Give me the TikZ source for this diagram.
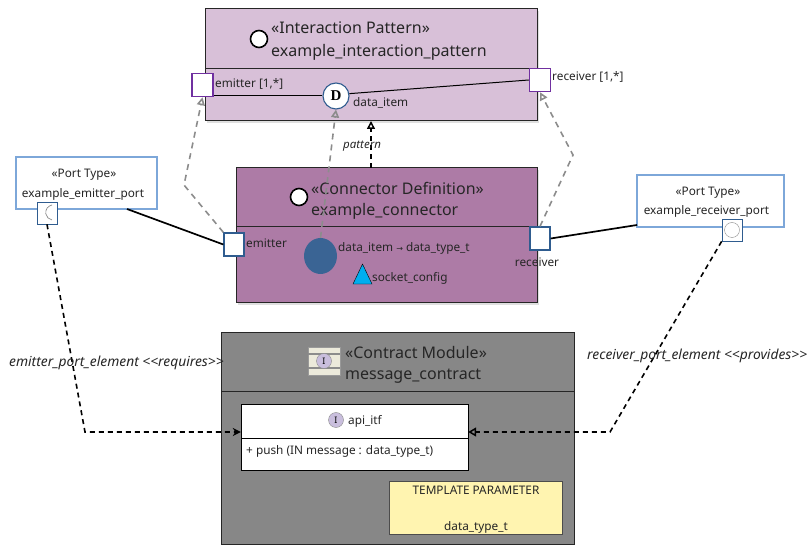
\documentclass[tikz,border=0pt]{standalone}
\usepackage{fontspec}
\setmainfont{Noto Sans}
\newfontfamily\arrowfont{DejaVu Sans}
\newfontfamily\serifbold{Liberation Serif}
\usetikzlibrary{arrows.meta,shadows,shapes.geometric}
\definecolor{patternfill}{HTML}{D8C0D8}
\definecolor{connectorfill}{HTML}{AD7BA6}
\definecolor{modulefill}{HTML}{878787}
\definecolor{portblue}{HTML}{7DA7D9}
\definecolor{portedge}{HTML}{2F5C8F}
\definecolor{portviolet}{HTML}{7030A0}
\definecolor{notefill}{HTML}{FFF4B0}
\definecolor{itemblue}{HTML}{3A6494}
\definecolor{socketblue}{HTML}{00AEEF}
\definecolor{ifacefill}{HTML}{C9BEDD}
\definecolor{iconfill}{HTML}{ECEADB}
\begin{document}
\begin{tikzpicture}[x=1pt, y=-1pt,
  bigtext/.style={font=\fontsize{16}{18}\selectfont, inner sep=0, anchor=west, text=black!85},
  smalltext/.style={font=\fontsize{11.8}{13}\selectfont, inner sep=0, text=black!85},
  edgetext/.style={font=\fontsize{13.8}{15}\selectfont\itshape, inner sep=0, anchor=west, text=black!85},
  bigbox/.style={draw=black!85, line width=1pt, inner sep=0, drop shadow={shadow xshift=2pt, shadow yshift=-2pt, fill=black!25}},
  typebox/.style={draw=portblue, line width=1.6pt, fill=white, inner sep=0},
  openport/.style={draw=portviolet, line width=1.5pt, fill=white, inner sep=0, minimum width=21pt, minimum height=23pt},
  conport/.style={draw=portedge, line width=1.3pt, fill=white, inner sep=0, minimum width=20pt, minimum height=23pt},
  smallport/.style={draw=portedge, line width=0.7pt, fill=white, inner sep=0, minimum width=20pt, minimum height=22pt},
  ring/.style={circle, draw=black, line width=1.6pt, fill=white, inner sep=0, minimum size=17pt},
  ifaceicon/.style={circle, draw=black!45, fill=ifacefill, inner sep=0, minimum size=15pt, font=\fontsize{9}{9}\selectfont\bfseries},
  bound/.style={dash pattern=on 6pt off 5pt, draw=black!45, line width=1.6pt, -{Triangle[open, length=8pt, width=8pt]}},
  solidlink/.style={draw=black, line width=1.7pt},
  usage/.style={dash pattern=on 5pt off 4pt, draw=black, line width=1.6pt}]
\useasboundingbox (0,0) rectangle (809,545);

% interaction pattern
\node[bigbox, fill=patternfill, minimum width=332pt, minimum height=112pt] (pattern) at (371,65) {};
\draw[draw=black!85] (205,68) -- (537,68);
\node[ring] (patternIcon) at (259,39) {};
\node[bigtext] (patternStereo) at (271,28) {«Interaction Pattern»};
\node[bigtext] (patternName) at (271,52) {example\_interaction\_pattern};

% connector definition
\node[bigbox, fill=connectorfill, minimum width=301pt, minimum height=135pt] (connector) at (386.5,235.5) {};
\draw[draw=black!85] (236,226) -- (537,226);
\node[ring] (connectorIcon) at (299,197) {};
\node[bigtext] (connectorStereo) at (311,188) {«Connector Definition»};
\node[bigtext] (connectorName) at (311,211) {example\_connector};
\node[ellipse, fill=itemblue, inner sep=0, minimum width=33pt, minimum height=36pt] (item) at (320.5,256) {};
\node[smalltext, anchor=west] (itemLabel) at (338,248) {data\_item {\arrowfont\fontsize{8}{8}\selectfont →} data\_type\_t};
\node[draw=black, fill=socketblue, isosceles triangle, isosceles triangle apex angle=55, isosceles triangle stretches, shape border rotate=90, inner sep=0, minimum width=19pt, minimum height=20pt] (socket) at (362.5,278) {};
\node[smalltext, anchor=west] (socketLabel) at (372,278) {socket\_config};

% port types
\node[typebox, minimum width=141pt, minimum height=52pt] (emitterType) at (86.5,183) {};
\node[smalltext] (emitterStereo) at (84,175) {«Port Type»};
\node[smalltext] (emitterName) at (83,194) {example\_emitter\_port};
\node[typebox, minimum width=147pt, minimum height=52pt] (receiverType) at (710.5,201) {};
\node[smalltext] (receiverStereo) at (708,193) {«Port Type»};
\node[smalltext] (receiverName) at (706.5,211) {example\_receiver\_port};

% contract module
\node[draw=black!85, line width=1pt, fill=modulefill, minimum width=353pt, minimum height=211pt] (module) at (397.5,438.5) {};
\draw[draw=black!85] (221,391) -- (574,391);
\node[draw=black!40, fill=iconfill, minimum width=32pt, minimum height=28pt, inner sep=0] (moduleIcon) at (324,361) {};
\draw[draw=black!45, line width=1.5pt] (308,354) -- (340,354) (308,368) -- (340,368);
\node[ifaceicon] (moduleI) at (324,361) {I};
\node[bigtext] (moduleStereo) at (345,353) {«Contract Module»};
\node[bigtext] (moduleName) at (345,376) {message\_contract};
\node[draw=black, fill=white, minimum width=227pt, minimum height=66pt, inner sep=0] (api) at (354.5,437) {};
\draw[draw=black] (241,438) -- (468,438);
\node[ifaceicon] (apiIcon) at (336,420) {I};
\node[smalltext, anchor=west] (apiName) at (348,421) {api\_itf};
\node[smalltext, anchor=west] (apiPush) at (246,451) {+ push (IN message : data\_type\_t)};
\node[draw=black!70, fill=notefill, minimum width=173pt, minimum height=53pt, inner sep=0] (template) at (475.5,507.5) {};
\node[smalltext] (templateTitle) at (476,490) {TEMPLATE PARAMETER};
\node[smalltext] (templateName) at (476,527) {data\_type\_t};

% ports
\node[openport] (patternEmitter) at (202.5,85) {};
\node[openport] (patternReceiver) at (540,80) {};
\node[circle, draw=portedge, line width=1.1pt, fill=white, inner sep=0, minimum size=26pt, font=\serifbold\bfseries\fontsize{15}{15}\selectfont] (patternItem) at (336,96) {D};
\node[conport] (connectorEmitter) at (234,244.5) {};
\node[conport] (connectorReceiver) at (540,238.5) {};
\node[smallport] (emitterSmall) at (47,213) {};
\node[smallport] (receiverSmall) at (732,230) {};
\draw[draw=black!45, line width=0.7pt] (52,205) arc (100:260:7.6pt);
\node[circle, draw=black!45, inner sep=0, minimum size=15pt] (receiverRing) at (732,230) {};

% port labels
\node[smalltext, anchor=west] (patternEmitterLabel) at (215,84) {emitter [1,*]};
\node[smalltext, anchor=west] (patternReceiverLabel) at (552,77) {receiver [1,*]};
\node[smalltext, anchor=west] (patternItemLabel) at (353,103) {data\_item};
\node[smalltext, anchor=west] (connectorEmitterLabel) at (246,243) {emitter};
\node[smalltext] (connectorReceiverLabel) at (537,262) {receiver};

% connectors
\coordinate (emitterBend) at (184,185);
\coordinate (receiverBend) at (573,155);
\coordinate (emitterFoot) at (127,209);
\coordinate (receiverFoot) at (637,225);
\coordinate (patternTip) at (371,121);
\coordinate (patternFoot) at (371,168);
\coordinate (emitterElbow) at (85,432);
\coordinate (receiverElbow) at (610,432);
\draw[solidlink, line width=1pt] (patternEmitter.east |- patternItem) -- (patternItem);
\draw[solidlink, line width=1pt] (patternItem.10) -- (patternReceiver.west);
\draw[solidlink] (emitterFoot) -- (connectorEmitter.west);
\draw[solidlink] (connectorReceiver.east) -- (receiverFoot);
\draw[bound] (connectorEmitter.north west) -- (emitterBend) -- (patternEmitter.south);
\draw[bound] (connectorReceiver.north) -- (receiverBend) -- (patternReceiver.south);
\draw[bound] (item.north) -- (patternItem.south);
\draw[usage, -{Triangle[open, length=8pt, width=8pt, line width=1.5pt]}] (patternFoot) -- (patternTip);
\draw[usage, -{Stealth[length=8pt, width=8pt]}] (emitterSmall.south) -- (emitterElbow) -- (api.west |- emitterElbow);
\draw[usage, -{Triangle[open, length=8pt, width=9pt, line width=1.5pt]}] (receiverSmall.south west) -- (receiverElbow) -- (api.east |- receiverElbow);

% connector labels
\node[edgetext, font=\fontsize{11.5}{13}\selectfont\itshape] (patternLabel) at (343,146) {pattern};
\node[edgetext] (emitterElement) at (9,363) {emitter\_port\_element <{}<requires>{}>};
\node[edgetext] (receiverElement) at (587,356) {receiver\_port\_element <{}<provides>{}>};
\end{tikzpicture}
\end{document}
